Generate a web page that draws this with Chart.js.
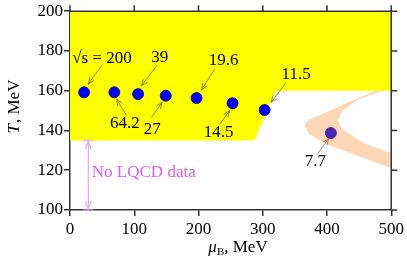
<!DOCTYPE html>
<html>
<head>
<meta charset="utf-8">
<script src="https://cdn.jsdelivr.net/npm/chart.js@4"></script>
<style>body{margin:0;background:#fff}</style>
</head>
<body>
<canvas id="chart" width="407" height="265"></canvas>
<script>
// collision energies (GeV) and freeze-out points
const energies = ['200', '64.2', '39', '27', '19.6', '14.5', '11.5', '7.7'];
const muB = [22, 69, 106, 149, 197, 253, 303, 406];
const temps = [159.2, 159.2, 158.3, 157.5, 156.3, 153.7, 150.3, 138.7];

const xTicks = [0, 100, 200, 300, 400, 500];
const yTicks = [100, 120, 140, 160, 180, 200];

// region covered by lattice QCD
const lqcdMu = [0, 500, 500, 320, 287, 0];
const lqcdT = [200, 200, 160, 160, 135, 135];

// critical point band (outer edge then inner edge)
const bandMu = [500, 494, 445, 398, 370, 365, 372, 398, 445, 494, 500,
                500, 494, 455, 424, 416.6, 424, 450, 494, 500];
const bandT = [163, 162.5, 155.8, 149, 145, 142.5, 138.3, 133.3, 127.5, 121.7, 121,
               129, 129.2, 134, 140.8, 145, 150, 155.8, 160.8, 161.5];

const serif = "'Liberation Serif', 'Times New Roman', serif";
Chart.defaults.font.family = serif;
Chart.defaults.color = '#000';

function pts(xs, ys) {
    return xs.map((v, i) => ({x: v, y: ys[i]}));
}

// label position, arrow start, arrow end (data units)
const notes = [
    {text: '\u221As = 200', at: [49.7, 176.3], from: [48.9, 172.5], to: [28.4, 163.3]},
    {text: '64.2', at: [85.4, 143.7], from: [88, 147.5], to: [72.5, 155.8]},
    {text: '39', at: [139.7, 176.7], from: [134.6, 172.5], to: [111.3, 162.5]},
    {text: '27', at: [128.1, 140.5], from: [126.9, 146.7], to: [143.3, 154.2]},
    {text: '19.6', at: [239.1, 175], from: [225.2, 170.9], to: [204.5, 160.4]},
    {text: '14.5', at: [231.4, 139], from: [232.9, 143], to: [248.4, 150]},
    {text: '11.5', at: [352, 168], from: [336.5, 164.2], to: [313.2, 154.2]},
    {text: '7.7', at: [382, 124.5], from: [385.6, 128.4], to: [402.6, 135.9], color: '#8a6f62'}
];

function arrowHead(ctx, x1, y1, x2, y2, len) {
    const ang = Math.atan2(y2 - y1, x2 - x1);
    ctx.beginPath();
    ctx.moveTo(x2 - len * Math.cos(ang - 0.38), y2 - len * Math.sin(ang - 0.38));
    ctx.lineTo(x2, y2);
    ctx.lineTo(x2 - len * Math.cos(ang + 0.38), y2 - len * Math.sin(ang + 0.38));
    ctx.stroke();
}

const extras = {
    id: 'extras',
    afterDraw(chart) {
        const {ctx, chartArea: a, scales: {x, y}} = chart;
        ctx.save();

        // top and right frame with outward ticks
        ctx.strokeStyle = '#333';
        ctx.lineWidth = 1.5;
        ctx.beginPath();
        ctx.moveTo(a.left, a.top);
        ctx.lineTo(a.right, a.top);
        ctx.lineTo(a.right, a.bottom);
        xTicks.forEach(v => {
            const px = x.getPixelForValue(v);
            ctx.moveTo(px, a.top);
            ctx.lineTo(px, a.top - 6);
        });
        yTicks.forEach(v => {
            const py = y.getPixelForValue(v);
            ctx.moveTo(a.right, py);
            ctx.lineTo(a.right + 6, py);
        });
        ctx.stroke();

        // energy labels with arrows
        ctx.font = '17px ' + serif;
        ctx.textAlign = 'center';
        ctx.textBaseline = 'middle';
        ctx.lineWidth = 0.8;
        notes.forEach(n => {
            const c = n.color || '#6e6a1e';
            ctx.strokeStyle = c;
            const x1 = x.getPixelForValue(n.from[0]), y1 = y.getPixelForValue(n.from[1]);
            const x2 = x.getPixelForValue(n.to[0]), y2 = y.getPixelForValue(n.to[1]);
            ctx.beginPath();
            ctx.moveTo(x1, y1);
            ctx.lineTo(x2, y2);
            ctx.stroke();
            arrowHead(ctx, x1, y1, x2, y2, 7);
            ctx.fillStyle = '#000';
            ctx.fillText(n.text, x.getPixelForValue(n.at[0]), y.getPixelForValue(n.at[1]));
        });

        // "No LQCD data" marker
        const ax = x.getPixelForValue(28.5);
        const yTop = y.getPixelForValue(135), yBot = y.getPixelForValue(100);
        ctx.strokeStyle = '#e9a6f2';
        ctx.lineWidth = 1.2;
        ctx.beginPath();
        ctx.moveTo(ax, yTop);
        ctx.lineTo(ax, yBot);
        ctx.moveTo(ax - 5, yTop);
        ctx.lineTo(ax + 5, yTop);
        ctx.moveTo(ax - 5, yBot);
        ctx.lineTo(ax + 5, yBot);
        ctx.stroke();
        arrowHead(ctx, ax, yBot, ax, yTop + 1, 8);
        arrowHead(ctx, ax, yTop, ax, yBot - 1, 8);
        ctx.fillStyle = '#dc5fe6';
        ctx.textAlign = 'left';
        ctx.fillText('No LQCD data', x.getPixelForValue(34), y.getPixelForValue(119));

        // axis titles
        ctx.fillStyle = '#000';
        ctx.textBaseline = 'alphabetic';
        ctx.textAlign = 'left';
        const it = 'italic 17px ' + serif, rm = '17px ' + serif, sm = '11px ' + serif;
        ctx.save();
        ctx.translate(19, 107);
        ctx.rotate(-Math.PI / 2);
        ctx.font = it;
        const wT = ctx.measureText('T').width;
        ctx.font = rm;
        const wRest = ctx.measureText(', MeV').width;
        let sx = -(wT + wRest) / 2;
        ctx.font = it;
        ctx.fillText('T', sx, 0);
        ctx.font = rm;
        ctx.fillText(', MeV', sx + wT + 1, 0);
        ctx.restore();

        ctx.font = it;
        const wMu = ctx.measureText('\u03BC').width;
        ctx.font = sm;
        const wB = ctx.measureText('B').width;
        ctx.font = rm;
        const wM = ctx.measureText(', MeV').width;
        sx = 238 - (wMu + wB + wM) / 2;
        const base = 252;
        ctx.font = it;
        ctx.fillText('\u03BC', sx, base);
        ctx.font = sm;
        ctx.fillText('B', sx + wMu, base + 3);
        ctx.font = rm;
        ctx.fillText(', MeV', sx + wMu + wB, base);

        ctx.restore();
    }
};

new Chart(document.getElementById('chart'), {
    type: 'scatter',
    data: {
        datasets: [
            {
                data: pts(muB, temps),
                backgroundColor: muB.map((v, i) => i === muB.length - 1 ? '#4a27b5' : '#0000ff'),
                borderColor: muB.map((v, i) => i === muB.length - 1 ? '#2a1580' : '#00008a'),
                borderWidth: 0.8,
                pointRadius: 5.5,
                order: 0
            },
            {
                type: 'line',
                data: pts(lqcdMu, lqcdT),
                backgroundColor: '#ffff00',
                borderWidth: 0,
                pointRadius: 0,
                fill: 'shape',
                tension: 0,
                order: 1
            },
            {
                type: 'line',
                data: pts(bandMu, bandT),
                backgroundColor: '#fdd6b6',
                borderWidth: 0,
                pointRadius: 0,
                fill: 'shape',
                tension: 0,
                order: 2
            }
        ]
    },
    options: {
        responsive: false,
        animation: false,
        layout: {padding: {top: 10, right: 15, left: 0, bottom: 0}},
        plugins: {legend: {display: false}, tooltip: {enabled: false}},
        scales: {
            x: {
                type: 'linear',
                min: 0,
                max: 500,
                afterFit: s => { s.height = 55; },
                afterBuildTicks: s => { s.ticks = xTicks.map(v => ({value: v})); },
                ticks: {font: {family: serif, size: 17}, padding: 3},
                grid: {drawOnChartArea: false, tickLength: 6, color: '#333', lineWidth: 1.5},
                border: {color: '#333', width: 1.5}
            },
            y: {
                min: 100,
                max: 200,
                afterFit: s => { s.width = 70; },
                afterBuildTicks: s => { s.ticks = yTicks.map(v => ({value: v})); },
                ticks: {font: {family: serif, size: 17}, padding: 1},
                grid: {drawOnChartArea: false, tickLength: 6, color: '#333', lineWidth: 1.5},
                border: {color: '#333', width: 1.5}
            }
        }
    },
    plugins: [extras]
});
</script>
</body>
</html>
